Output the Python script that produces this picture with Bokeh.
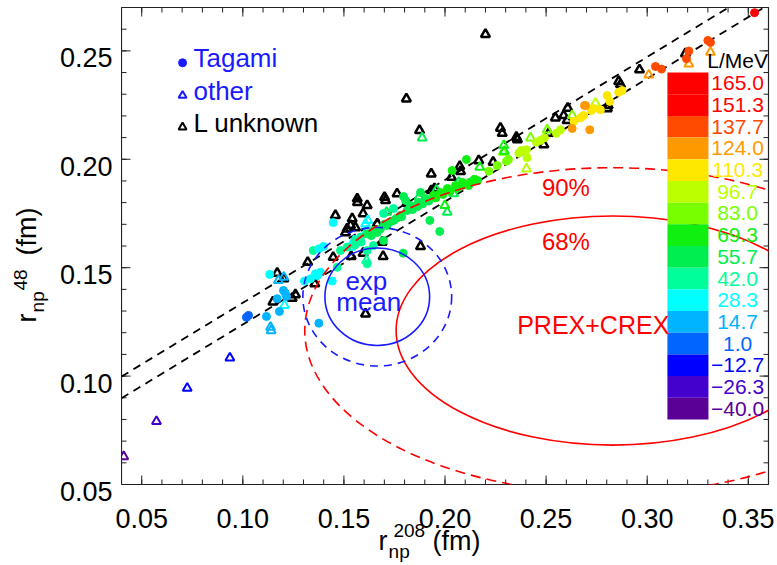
import numpy as np
from bokeh.plotting import figure
from bokeh.layouts import row, column
from bokeh.models import Range1d, ColumnDataSource, LinearColorMapper
from bokeh.core.properties import value
from bokeh.embed import file_html
from bokeh.resources import INLINE

# ---------------- data ----------------
tag_x = [0.1018,0.1028,0.1117,0.1170,0.1181,0.1133,0.1201,0.1211,0.1216,0.1305,0.1335,0.1368,0.1442,0.1376,
         0.1348,0.1376,0.1399,0.1447,0.1384,0.1359,0.1467,0.1483,0.1516,0.1557,0.1582,0.1615,0.1648,0.1681,0.1714,0.1747,0.1780,0.1813,
         0.1615,0.1793,0.1974,0.1925,0.1615,0.1646,0.1696,0.1696,0.1745,0.1805,
         0.1829,0.1869,0.1903,0.1943,0.1978,0.2012,0.2052,0.2086,0.1879,0.1795,0.2106,0.2035,0.2146,0.2161,0.2117,0.2217,0.2258,0.2304,0.2314,0.2365,0.2378,0.2403,0.2406,0.2452,0.2472,0.2492,0.2551,0.2571,0.2637,0.2670,0.2685,0.2690,0.2629,0.2716,
         0.2723,0.2734,0.2769,0.2802,0.2815,0.2859,0.2876,0.2695,0.3041,0.3071,0.3206,0.3194,0.3300,0.3313,0.3531,
         0.1700,0.1730,0.1760,0.1785,0.1840,0.1865,0.1890,0.1920,0.1955,0.1990,0.2025,0.2060,0.2090,0.2125,0.1665,0.1635,0.1585,0.1555]
tag_y = [0.1271,0.1280,0.1275,0.1357,0.1298,0.1469,0.1395,0.1381,0.1367,0.1438,0.1449,0.1464,0.1438,0.1244,
         0.1579,0.1587,0.1598,0.1708,0.1479,0.1472,0.1502,0.1579,0.1595,0.1625,0.1641,0.1656,0.1672,0.1679,0.1695,0.1718,0.1741,0.1764,
         0.1518,0.1567,0.1667,0.1718,0.1579,0.1602,0.1625,0.1750,0.1773,0.1810,
         0.1787,0.1801,0.1819,0.1833,0.1847,0.1865,0.1879,0.1893,0.1847,0.1828,0.1999,0.1948,0.1908,0.1902,0.1879,0.1945,0.1971,0.1991,0.1999,0.2028,0.2041,0.2044,0.2007,0.2079,0.2087,0.2099,0.2120,0.2136,0.2176,0.2191,0.2202,0.2248,0.2142,0.2136,
         0.2225,0.2234,0.2228,0.2294,0.2267,0.2309,0.2317,0.2248,0.2428,0.2416,0.2499,0.2464,0.2548,0.2539,0.2676,
         0.1700,0.1712,0.1728,0.1735,0.1768,0.1782,0.1795,0.1808,0.1822,0.1838,0.1852,0.1866,0.1880,0.1895,0.1662,0.1648,0.1618,0.1605]
tag_L = [1,1,14,14,14,28,14,14,20,28,28,28,28,14,
         42,28,28,28,35,35,42,42,42,45,48,50,52,55,55,58,60,60,
         45,55,60,60,45,48,50,42,48,55,
         60,62,62,65,65,68,70,70,58,60,65,65,72,72,70,85,85,88,88,90,90,92,92,95,95,95,100,100,105,108,108,120,120,125,
         110,110,110,115,115,112,112,118,135,135,140,140,140,140,160,
         55,56,58,58,60,60,62,62,64,66,66,68,68,70,52,50,48,45]

oth_x = [0.0411,0.0573,0.0725,0.0936,0.1137,0.1140,0.1176,0.1203,0.1206,0.1711,0.1618,0.1612,0.2011,0.2043,0.2068,
         0.2172,0.2288,0.2403,0.1999,0.1887,0.2291,0.2294,0.2423,0.2505,0.2629,0.1871,0.1958,0.2744,0.3008,0.3313,
         0.3206,0.1607,0.1615,0.1549,0.1533]
oth_y = [0.0629,0.0791,0.0944,0.1084,0.1226,0.1210,0.1441,0.1456,0.1326,0.1756,0.1718,0.1533,0.1756,0.1841,0.1894,
         0.1964,0.2033,0.1956,0.1787,0.2099,0.2064,0.2037,0.2099,0.2136,0.2202,0.1825,0.1859,0.2259,0.2389,0.2494,
         0.2440,0.1702,0.1672,0.1625,0.1595]
oth_L = [-40,-26,-12,-12,10,10,14,20,28,50,35,45,60,55,60,
         65,80,90,65,50,65,65,80,80,85,55,60,95,125,125,
         125,35,35,30,30]

unk_x = [0.1809,0.1874,0.2200,0.2073,0.2077,0.2167,0.2238,0.2032,0.1932,0.1932,0.1948,0.1763,0.1813,0.1701,0.1706,
         0.1566,0.1567,0.1615,0.1458,0.1541,0.1595,0.1516,0.1533,0.1557,0.1508,0.1665,0.1689,0.1879,0.1694,0.1536,
         0.1595,0.1447,0.1321,0.1170,0.1149,0.1244,0.1260,0.1607,0.1356,0.1203,0.2274,0.2283,0.2353,0.2358,0.2546,
         0.2587,0.2604,0.2513,0.2489,0.2962,0.2859,0.2868,0.2807,0.2803,0.2607,0.3189]
unk_y = [0.2279,0.2133,0.2576,0.1967,0.1944,0.1994,0.1987,0.1917,0.1933,0.1856,0.1865,0.1841,0.1798,0.1825,0.1810,
         0.1818,0.1801,0.1787,0.1741,0.1726,0.1749,0.1679,0.1695,0.1685,0.1662,0.1702,0.1618,0.1598,0.1552,0.1552,
         0.1567,0.1548,0.1525,0.1475,0.1342,0.1359,0.1376,0.1287,0.1426,0.1449,0.2144,0.2120,0.2102,0.2091,0.2191,
         0.2202,0.2179,0.2120,0.2067,0.2413,0.2359,0.2345,0.2248,0.2234,0.2236,0.2487]

# colour bar (top to bottom)
cbar_labels = ["165.0","151.3","137.7","124.0","110.3","96.7","83.0","69.3",
               "55.7","42.0","28.3","14.7","1.0","\u221212.7","\u221226.3","\u221240.0"]
cbar_values = [165.0,151.3,137.7,124.0,110.3,96.7,83.0,69.3,55.7,42.0,28.3,14.7,1.0,-12.7,-26.3,-40.0]
cbar_colors = ["#ff0000","#ff0000","#ff4a00","#ff9900","#ffe800","#bcff00","#78ff00","#10f010",
               "#00ee50","#00ff9a","#00ffff","#00b4ff","#0066ff","#0000ff","#4400cc","#5a0096"]

# PREX+CREX and experimental mean (centre, sigma)
prex_crex_c = (0.283, 0.121)
prex_crex_s = (0.071, 0.035)
exp_mean_c = (0.1665, 0.1366)
exp_mean_s = (0.01715, 0.0149)
k68, k90 = 1.5096, 2.146

# linear bands
fit_slope = 0.567
fit_intercepts = [0.0771, 0.0671]

x_ticks = [0.05, 0.10, 0.15, 0.20, 0.25, 0.30, 0.35]
y_ticks = [0.05, 0.10, 0.15, 0.20, 0.25]
x_tick_labels = ["0.05", "0.10", "0.15", "0.20", "0.25", "0.30", "0.35"]
y_tick_labels = ["0.05", "0.10", "0.15", "0.20", "0.25"]

# ---------------- layout constants ----------------
FONT = "Liberation Sans"
FW, FH = 647, 477
XR, YR = (0.04, 0.36), (0.05, 0.27)
LEFT_W = 121        # left panel (y tick labels + y title)
TOP_B = 7           # border above frame
RIGHT_B = 8         # border right of frame
LOW_B = 19          # border below frame (room for lowest y tick label)
BOTTOM_H = 60       # bottom panel (x tick labels + x title)
TOTAL_W = LEFT_W + FW + RIGHT_B
dxp = (XR[1] - XR[0]) / FW   # data per pixel
dyp = (YR[1] - YR[0]) / FH
AX = "#222222"

def blank(fig):
    fig.grid.visible = False
    fig.outline_line_color = None
    return fig

def txt(fig, x, y, t, color, size, align="left", angle=0.0):
    fig.text(x=[x], y=[y], text=[t], text_color=color, text_font=value(FONT),
             text_font_size=size, text_align=align, text_baseline="middle", angle=angle)

# ---------------- main plot ----------------
p = figure(frame_width=FW, frame_height=FH, x_range=XR, y_range=YR,
           x_axis_location=None, y_axis_location=None,
           output_backend="svg", toolbar_location=None,
           min_border_left=0, min_border_right=RIGHT_B, min_border_top=TOP_B, min_border_bottom=LOW_B)
p.grid.visible = False
p.outline_line_color = AX
p.outline_line_width = 1.2

x_minor = [round(XR[0] + 0.01 * i, 2) for i in range(33)]
y_minor = [round(YR[0] + 0.01 * i, 2) for i in range(23)]

# inward ticks on all four sides
for yb, sgn in ((YR[0], 1), (YR[1], -1)):
    p.segment(x0=x_ticks, x1=x_ticks, y0=[yb] * len(x_ticks), y1=[yb + sgn * 9 * dyp] * len(x_ticks),
              line_color=AX, line_width=1)
    p.segment(x0=x_minor, x1=x_minor, y0=[yb] * len(x_minor), y1=[yb + sgn * 5 * dyp] * len(x_minor),
              line_color=AX, line_width=1)
for xb_, sgn in ((XR[0], 1), (XR[1], -1)):
    p.segment(x0=[xb_] * len(y_ticks), x1=[xb_ + sgn * 9 * dxp] * len(y_ticks), y0=y_ticks, y1=y_ticks,
              line_color=AX, line_width=1)
    p.segment(x0=[xb_] * len(y_minor), x1=[xb_ + sgn * 5 * dxp] * len(y_minor), y0=y_minor, y1=y_minor,
              line_color=AX, line_width=1)

# colour mapping
half = (cbar_values[0] - cbar_values[1]) / 2
mapper = LinearColorMapper(palette=cbar_colors[::-1], low=cbar_values[-1] - half, high=cbar_values[0] + half)

# fit lines
xx = np.array(XR)
for b in fit_intercepts:
    p.line(xx, b + fit_slope * xx, line_color="black", line_dash="8 6", line_width=1.8)

# points
p.scatter(x=unk_x, y=unk_y, marker="triangle", size=9, fill_color=None,
          line_color="black", line_width=2.5)
src_o = ColumnDataSource(dict(x=oth_x, y=oth_y, L=oth_L))
p.scatter(x="x", y="y", source=src_o, marker="triangle", size=9, fill_color=None,
          line_color={"field": "L", "transform": mapper}, line_width=2)
src_t = ColumnDataSource(dict(x=tag_x, y=tag_y, L=tag_L))
p.scatter(x="x", y="y", source=src_t, marker="circle", size=8,
          fill_color={"field": "L", "transform": mapper},
          line_color={"field": "L", "transform": mapper})

# ellipses
cx, cy = prex_crex_c
sx, sy = prex_crex_s
p.ellipse(x=[cx], y=[cy], width=[2 * k68 * sx], height=[2 * k68 * sy], fill_color=None,
          line_color="#ff0000", line_width=1.6)
p.ellipse(x=[cx], y=[cy], width=[2 * k90 * sx], height=[2 * k90 * sy], fill_color=None,
          line_color="#ff0000", line_width=1.6, line_dash="10 6")
cx, cy = exp_mean_c
sx, sy = exp_mean_s
p.ellipse(x=[cx], y=[cy], width=[2 * k68 * sx], height=[2 * k68 * sy], fill_color=None,
          line_color="#1a1aff", line_width=1.6)
p.ellipse(x=[cx], y=[cy], width=[2 * k90 * sx], height=[2 * k90 * sy], fill_color=None,
          line_color="#1a1aff", line_width=1.6, line_dash="8 6")

# colour bar
cb_x0, cb_x1, cb_top, cb_dy = 0.310, 0.3303, 0.24, 0.01
n = len(cbar_values)
tops = [cb_top - i * cb_dy for i in range(n)]
bots = [t - cb_dy for t in tops]
cb_src = ColumnDataSource(dict(top=tops, bottom=bots, v=cbar_values, lab=cbar_labels,
                               c=cbar_colors, ym=[t - cb_dy / 2 for t in tops]))
p.quad(left=cb_x0, right=cb_x1, top="top", bottom="bottom", source=cb_src,
       fill_color={"field": "v", "transform": mapper}, line_color=None)
p.text(x=0.3447, y="ym", text="lab", source=cb_src, text_color="c", text_align="center",
       text_baseline="middle", text_font=value(FONT), text_font_size="21px")
txt(p, 0.3447, 0.2457, "L/MeV", "black", "21px", "center")

txt(p, 0.2598, 0.1868, "90%", "#ff0000", "24px", "center")
txt(p, 0.2598, 0.1621, "68%", "#ff0000", "24px", "center")
txt(p, 0.2357, 0.1235, "PREX+CREX", "#ff0000", "25px")
txt(p, 0.1611, 0.1440, "exp", "#1a1aff", "26px", "center")
txt(p, 0.1623, 0.1341, "mean", "#1a1aff", "26px", "center")

# legend
p.scatter(x=[0.0702], y=[0.2445], marker="circle", size=8, color="#1a1aff")
p.scatter(x=[0.0702], y=[0.2294], marker="triangle", size=8, fill_color=None, line_color="#1a1aff", line_width=2)
p.scatter(x=[0.0702], y=[0.2148], marker="triangle", size=8, fill_color=None, line_color="black", line_width=2)
txt(p, 0.0756, 0.2465, "Tagami", "#1a1aff", "26px")
txt(p, 0.0756, 0.2313, "other", "#1a1aff", "26px")
txt(p, 0.0756, 0.2165, "L unknown", "black", "26px")

# ---------------- left panel: y tick labels + y title ----------------
yl = blank(figure(frame_width=LEFT_W, frame_height=TOP_B + FH + LOW_B,
                  x_range=Range1d(0, LEFT_W), y_range=Range1d(YR[0] - LOW_B * dyp, YR[1] + TOP_B * dyp),
                  x_axis_location=None, y_axis_location=None, output_backend="svg",
                  toolbar_location=None, min_border_left=0, min_border_right=0,
                  min_border_top=0, min_border_bottom=0))
yl.text(x=LEFT_W - 9, y=y_ticks, text=y_tick_labels, text_align="right", text_baseline="middle",
        text_font=value(FONT), text_font_size="27px", text_color="black")
rot = np.pi / 2
txt(yl, 26.6, 0.1279, "r", "black", "27px", angle=rot)
txt(yl, 37.4, 0.1326, "np", "black", "19px", angle=rot)
txt(yl, 20.4, 0.1427, "48", "black", "19px", angle=rot)
txt(yl, 26.6, 0.1588, "(fm)", "black", "27px", angle=rot)

# ---------------- bottom panel: x tick labels + x title ----------------
xb = blank(figure(frame_width=TOTAL_W, frame_height=BOTTOM_H,
                  x_range=Range1d(XR[0] - LEFT_W * dxp, XR[0] + (FW + RIGHT_B) * dxp),
                  y_range=Range1d(YR[0] - (LOW_B + BOTTOM_H) * dyp, YR[0] - LOW_B * dyp),
                  x_axis_location=None, y_axis_location=None, output_backend="svg",
                  toolbar_location=None, min_border_left=0, min_border_right=0,
                  min_border_top=0, min_border_bottom=0))
xb.text(x=x_ticks, y=YR[0] - 34 * dyp, text=x_tick_labels, text_align="center",
        text_baseline="middle", text_font=value(FONT), text_font_size="27px", text_color="black")
txt(xb, 0.1671, YR[0] - 56 * dyp, "r", "black", "27px")
txt(xb, 0.1721, YR[0] - 67 * dyp, "np", "black", "19px")
txt(xb, 0.1745, YR[0] - 46 * dyp, "208", "black", "19px")
txt(xb, 0.1938, YR[0] - 56 * dyp, "(fm)", "black", "27px")

layout = column(row(yl, p), xb)
open("out.html", "w").write(file_html(layout, INLINE))
